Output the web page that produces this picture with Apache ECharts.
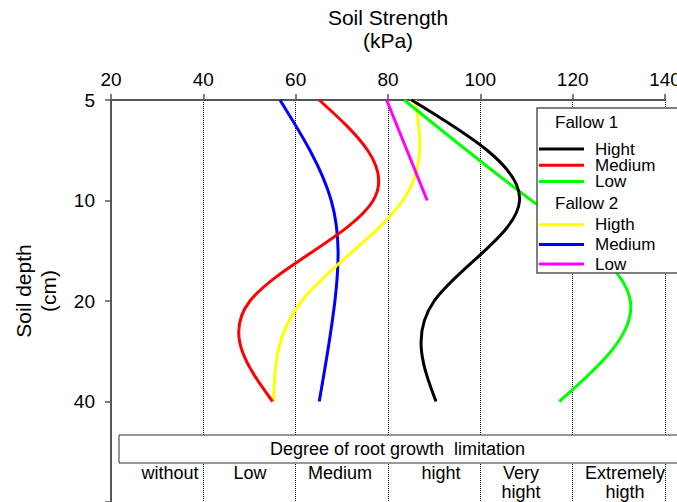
<!DOCTYPE html>
<html>
<head>
<meta charset="utf-8">
<script src="https://cdn.jsdelivr.net/npm/echarts@6/dist/echarts.min.js"></script>
<style>
html,body{margin:0;padding:0;background:#fff;}
#chart{width:677px;height:502px;}
</style>
</head>
<body>
<div id="chart"></div>
<script>
// ---- data ----
var depths = ['5', '10', '20', '40'];
var xTicks = [20, 40, 60, 80, 100, 120, 140];
var f1Hight  = [85.1, 108.5, 90.0, 90.4];
var f1Medium = [65.1, 76.8, 50.1, 55.0];
var f1Low    = [83.5, 111.1, 132.5, 117.1];
var f2Higth  = [85.9, 83.2, 61.3, 55.2];
var f2Medium = [56.6, 67.7, 68.5, 65.1];
var f2Low    = [79.7, 88.5];
var limitTitle = 'Degree of root growth  limitation';
var limitLabels = ['without', 'Low', 'Medium', 'hight', 'Very\nhight', 'Extremely\nhigth'];

var chart = echarts.init(document.getElementById('chart'), null, {renderer: 'svg'});
var FONT = 'Liberation Sans, Arial, sans-serif';

// natural cubic spline through the projected points -> bezier path
function solveNatural(v) {
  var n = v.length, M = new Array(n).fill(0);
  if (n < 3) return M;
  var m = n - 2, cp = new Array(m), dp = new Array(m);
  for (var i = 0; i < m; i++) {
    var rhs = 6 * (v[i] - 2 * v[i + 1] + v[i + 2]);
    if (i === 0) { cp[i] = 1 / 4; dp[i] = rhs / 4; }
    else {
      var den = 4 - cp[i - 1];
      cp[i] = 1 / den;
      dp[i] = (rhs - dp[i - 1]) / den;
    }
  }
  M[m] = dp[m - 1];
  for (var j = m - 2; j >= 0; j--) M[j + 1] = dp[j] - cp[j] * M[j + 2];
  return M;
}
function splinePath(pts) {
  var xs = pts.map(function (p) { return p[0]; });
  var ys = pts.map(function (p) { return p[1]; });
  var Mx = solveNatural(xs), My = solveNatural(ys);
  var d = 'M' + xs[0] + ' ' + ys[0];
  for (var i = 0; i < pts.length - 1; i++) {
    var dx0 = xs[i + 1] - xs[i] - (2 * Mx[i] + Mx[i + 1]) / 6;
    var dx1 = xs[i + 1] - xs[i] + (Mx[i] + 2 * Mx[i + 1]) / 6;
    var dy0 = ys[i + 1] - ys[i] - (2 * My[i] + My[i + 1]) / 6;
    var dy1 = ys[i + 1] - ys[i] + (My[i] + 2 * My[i + 1]) / 6;
    d += ' C' + (xs[i] + dx0 / 3) + ' ' + (ys[i] + dy0 / 3) + ' ' +
         (xs[i + 1] - dx1 / 3) + ' ' + (ys[i + 1] - dy1 / 3) + ' ' +
         xs[i + 1] + ' ' + ys[i + 1];
  }
  return d;
}

function mk(name, values, color) {
  return {
    name: name, type: 'custom', coordinateSystem: 'cartesian2d',
    data: values.map(function (v, i) { return [v, i]; }),
    encode: {x: 0, y: 1},
    itemStyle: {color: color},
    z: 2,
    renderItem: function (params, api) {
      if (params.dataIndex !== 0) return null;
      var pts = values.map(function (v, i) { return api.coord([v, i]); });
      return {
        type: 'path',
        shape: {pathData: splinePath(pts)},
        style: {fill: 'none', stroke: color, lineWidth: 3}
      };
    }
  };
}

var catData = depths.concat(['']);

var limitPos = [170, 250, 340, 441, 521, 625];
var graphics = [
  {type: 'rect', z: 10, shape: {x: 537, y: 108, width: 160, height: 165},
   style: {fill: '#fff', stroke: '#555', lineWidth: 1.5}},
  {type: 'text', z: 12, left: 555, top: 114,
   style: {text: 'Fallow 1', font: '17px ' + FONT, fill: '#000'}},
  {type: 'text', z: 12, left: 555, top: 195,
   style: {text: 'Fallow 2', font: '17px ' + FONT, fill: '#000'}},
  {type: 'rect', z: 10, shape: {x: 119, y: 435, width: 580, height: 28},
   style: {fill: '#fff', stroke: '#333', lineWidth: 1}},
  {type: 'text', z: 12, x: 397.5, y: 449,
   style: {text: limitTitle, font: '18px ' + FONT, fill: '#000', align: 'center', verticalAlign: 'middle'}}
];
limitLabels.forEach(function (t, i) {
  graphics.push({type: 'text', z: 12, x: limitPos[i], y: 463,
    style: {text: t, font: '18px ' + FONT, fill: '#000', align: 'center', verticalAlign: 'top', lineHeight: 19}});
});

var legendText = {fontSize: 17, color: '#000', padding: [0, 0, 0, 6], fontFamily: FONT};
var option = {
  animation: false,
  backgroundColor: '#fff',
  textStyle: {fontFamily: FONT},
  grid: {left: 111, right: 12, top: 100, bottom: 0, containLabel: false, outerBoundsMode: 'none'},
  xAxis: {
    type: 'value', position: 'top',
    min: xTicks[0], max: xTicks[xTicks.length - 1], interval: 20,
    name: 'Soil Strength\n(kPa)', nameLocation: 'middle', nameGap: 48,
    nameTextStyle: {fontSize: 21, color: '#000', lineHeight: 23, fontFamily: FONT},
    axisLine: {show: true, lineStyle: {color: '#555', width: 2}},
    axisTick: {show: true, length: 6, lineStyle: {color: '#555', width: 1.5}},
    axisLabel: {fontSize: 19, color: '#000', margin: 11, fontFamily: FONT, hideOverlap: false},
    splitLine: {show: true, lineStyle: {type: 'dotted', color: '#000', width: 1}}
  },
  yAxis: {
    type: 'category', inverse: true, boundaryGap: false,
    data: catData,
    name: 'Soil depth\n(cm)', nameLocation: 'middle', nameRotate: 90, nameGap: 50,
    nameTextStyle: {fontSize: 21, color: '#000', lineHeight: 25, fontFamily: FONT, padding: [0, 0, 0, 20]},
    axisLine: {show: true, lineStyle: {color: '#555', width: 2}},
    axisTick: {show: true, length: 6, interval: 0, lineStyle: {color: '#555', width: 1.5}},
    axisLabel: {fontSize: 19, color: '#000', margin: 16, interval: 0, fontFamily: FONT},
    splitLine: {show: false}
  },
  legend: [
    {
      orient: 'vertical', left: 539, top: 140.5, padding: 0, itemGap: -0.7,
      icon: 'rect', itemWidth: 45, itemHeight: 3, selectedMode: false, z: 11,
      data: ['Fallow 1 Hight', 'Fallow 1 Medium', 'Fallow 1 Low'],
      formatter: function (n) { return n.replace(/^Fallow \d /, ''); },
      textStyle: legendText
    },
    {
      orient: 'vertical', left: 539, top: 216.2, padding: 0, itemGap: 2.7,
      icon: 'rect', itemWidth: 45, itemHeight: 3, selectedMode: false, z: 11,
      data: ['Fallow 2 Higth', 'Fallow 2 Medium', 'Fallow 2 Low'],
      formatter: function (n) { return n.replace(/^Fallow \d /, ''); },
      textStyle: legendText
    }
  ],
  graphic: graphics,
  series: [
    mk('Fallow 2 Medium', f2Medium, '#0000ff'),
    mk('Fallow 2 Higth', f2Higth, '#ffff00'),
    mk('Fallow 1 Medium', f1Medium, '#ff0000'),
    mk('Fallow 2 Low', f2Low, '#ff00ff'),
    mk('Fallow 1 Low', f1Low, '#00ff00'),
    mk('Fallow 1 Hight', f1Hight, '#000000')
  ]
};
chart.setOption(option);
</script>
</body>
</html>
